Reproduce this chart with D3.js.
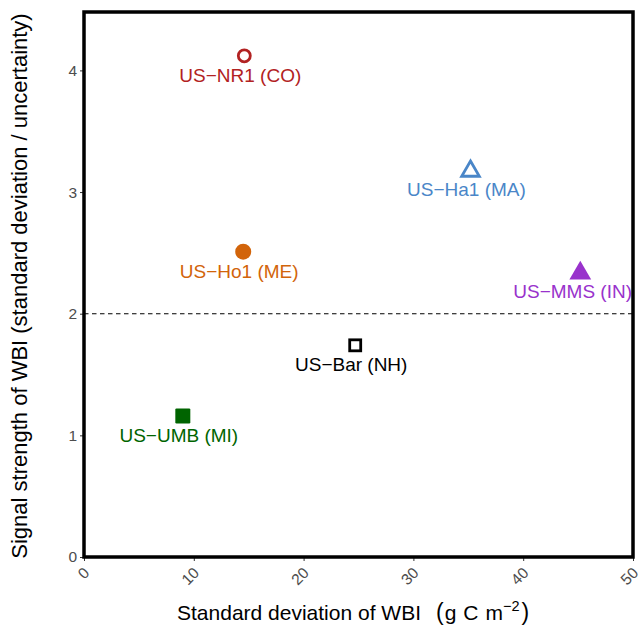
<!DOCTYPE html>
<html><head><meta charset="utf-8">
<script src="https://cdn.jsdelivr.net/npm/d3@7"></script>
<style>body{margin:0;background:#fff}svg{display:block}text{font-family:"Liberation Sans",Arial,sans-serif}</style>
</head><body>
<script>
const sites = ["US\u2212NR1 (CO)","US\u2212Ha1 (MA)","US\u2212Ho1 (ME)","US\u2212MMS (IN)","US\u2212Bar (NH)","US\u2212UMB (MI)"];
const sdWBI = [14.6, 35.2, 14.5, 45.2, 24.7, 9.0];
const signal = [4.12, 3.18, 2.51, 2.34, 1.74, 1.16];
const colors = ["#B22222","#4A86C8","#D2640A","#9932CC","#000000","#006400"];
const shapes = ["circle-open","triangle-open","circle","triangle","square-open","square"];
const xTicks = [0,10,20,30,40,50];
const yTicks = [0,1,2,3,4];
const threshold = 2;

const W=643,H=628;
const m={l:84,r:10,t:12,b:71};
const yMax=4.48;
const svg=d3.select("body").append("svg").attr("width",W).attr("height",H);
const x=d3.scaleLinear().domain([0,50]).range([m.l,W-m.r]);
const y=d3.scaleLinear().domain([0,yMax]).range([H-m.b,m.t]);

// axes
const gx=svg.append("g").attr("transform",`translate(0,${H-m.b})`)
  .call(d3.axisBottom(x).tickValues(xTicks).tickFormat(d3.format("d")).tickSize(4).tickPadding(3));
gx.select(".domain").remove();
gx.selectAll("line").attr("stroke","#333");
gx.selectAll("text").attr("fill","#4d4d4d").attr("font-size",15.5)
  .attr("text-anchor","end").attr("dy","0.35em")
  .attr("transform","translate(-3,8) rotate(-45)");
const gy=svg.append("g").attr("transform",`translate(${m.l},0)`)
  .call(d3.axisLeft(y).tickValues(yTicks).tickFormat(d3.format("d")).tickSize(4).tickPadding(3));
gy.select(".domain").remove();
gy.selectAll("line").attr("stroke","#333");
gy.selectAll("text").attr("fill","#4d4d4d").attr("font-size",15.5);

// threshold
svg.append("line").attr("x1",x(0)).attr("x2",x(50)).attr("y1",y(threshold)).attr("y2",y(threshold))
  .attr("stroke","#000").attr("stroke-width",1.1).attr("stroke-dasharray","4.5,3.5");

// points
const pts=svg.append("g");
sites.forEach((s,i)=>{
  const cx=x(sdWBI[i]),cy=y(signal[i]),c=colors[i],sh=shapes[i];
  const open=sh.endsWith("open");
  let el;
  if(sh.startsWith("circle")){
    el=pts.append("circle").attr("cx",cx).attr("cy",cy).attr("r",open?6:8);
  } else if(sh.startsWith("triangle")){
    const sym=d3.symbol().type(d3.symbolTriangle).size(open?135:205);
    el=pts.append("path").attr("d",sym()).attr("transform",`translate(${cx},${cy+1})`);
  } else {
    const sz=open?11:15;
    el=pts.append("rect").attr("x",cx-sz/2).attr("y",cy-sz/2).attr("width",sz).attr("height",sz).attr("rx",open?0:1.2);
  }
  if(open) el.attr("fill","none").attr("stroke",c).attr("stroke-width",2.8);
  else el.attr("fill",c);
  const t=svg.append("text").attr("x",cx-4).attr("y",cy+26).attr("text-anchor","middle")
    .attr("fill",c).attr("font-size",19).text(s);
  const bb=t.node().getBBox();
  const maxR=x(50)-1;
  if(bb.x+bb.width>maxR) t.attr("x",cx-4-(bb.x+bb.width-maxR));
});

// frame
svg.append("rect").attr("x",x(0)).attr("y",y(yMax)).attr("width",x(50)-x(0)).attr("height",y(0)-y(yMax))
  .attr("fill","none").attr("stroke","#000").attr("stroke-width",3.5);

// titles
const xt=svg.append("text").attr("x",177).attr("y",620).attr("text-anchor","start")
  .attr("font-size",21).attr("fill","#000");
xt.append("tspan").text("Standard deviation of WBI");
xt.append("tspan").text("(").attr("dx",15).attr("font-size",23);
xt.append("tspan").text("g").attr("dx",1);
xt.append("tspan").text("C").attr("dx",7);
xt.append("tspan").text("m").attr("dx",7);
xt.append("tspan").text("\u22122").attr("font-size",14.5).attr("dy",-9);
xt.append("tspan").text(")").attr("dx",2).attr("dy",9).attr("font-size",23);
svg.append("text").attr("transform",`translate(27,286) rotate(-90)`)
  .attr("text-anchor","middle").attr("font-size",22).attr("fill","#000")
  .text("Signal strength of WBI (standard deviation / uncertainty)");
</script>
</body></html>
